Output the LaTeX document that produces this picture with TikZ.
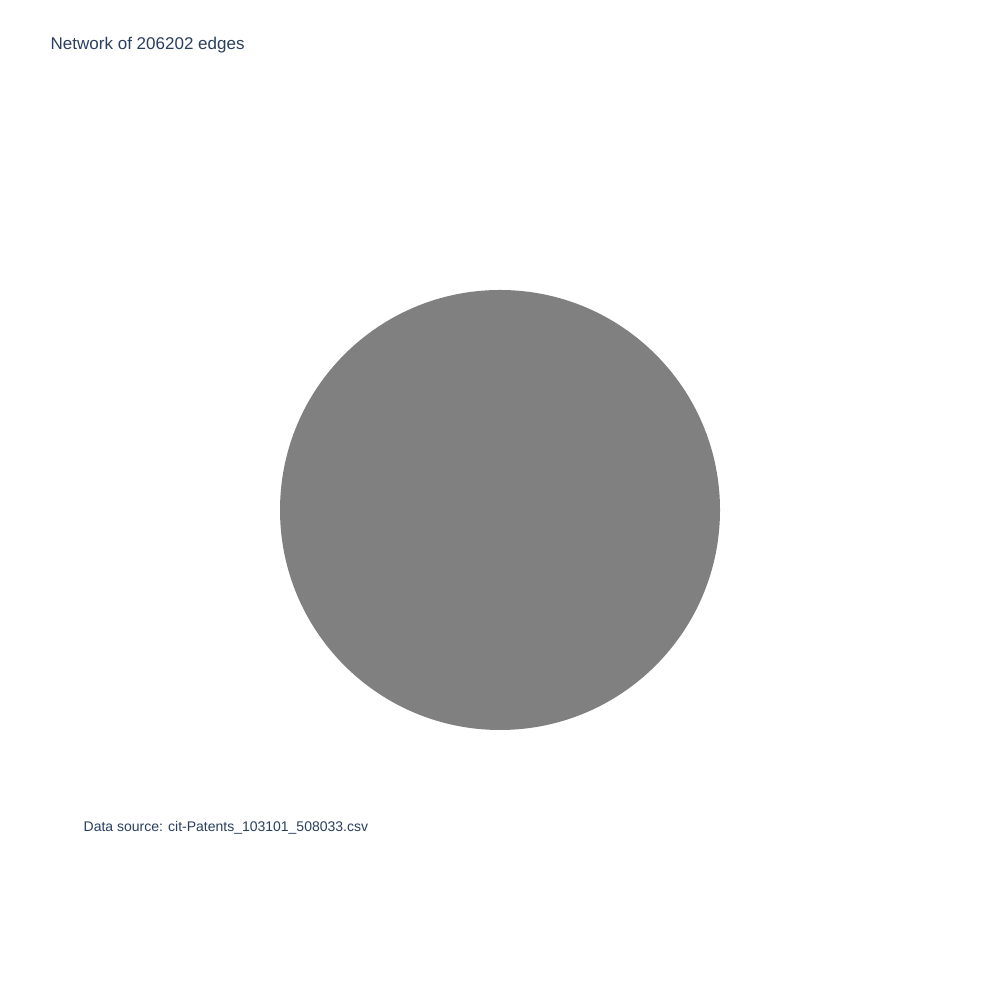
\documentclass[tikz,border=0pt]{standalone}
\usepackage{fontspec}
\setmainfont{Liberation Sans}
\usepackage{xcolor}
\usepackage{tikz}
\usetikzlibrary{positioning}
\definecolor{textcol}{HTML}{2a3f5f}
\definecolor{edgegray}{HTML}{808080}
\tikzset{
    plottitle/.style={anchor=base west, inner sep=0pt, text=textcol, font=\fontsize{4.84}{5.8}\selectfont},
    plotnote/.style={anchor=base west, inner sep=0pt, text=textcol, font=\fontsize{3.98}{4.8}\selectfont},
}
\begin{document}
\begin{tikzpicture}
        \fill[white] (0,0) rectangle (10,10);
        \useasboundingbox (0,0) rectangle (10,10);
        \coordinate (center) at (5.00,4.90);
        \def\radius{2.20cm}

        \fill[edgegray] (center) circle (\radius); % all edges

        \node[plottitle] (title) at (0.50,9.50) {Network of 206202 edges};
        \node[plotnote] (source) at (0.83,1.68) {Data source: cit-Patents\_103101\_508033.csv};
        \end{tikzpicture}
\end{document}
